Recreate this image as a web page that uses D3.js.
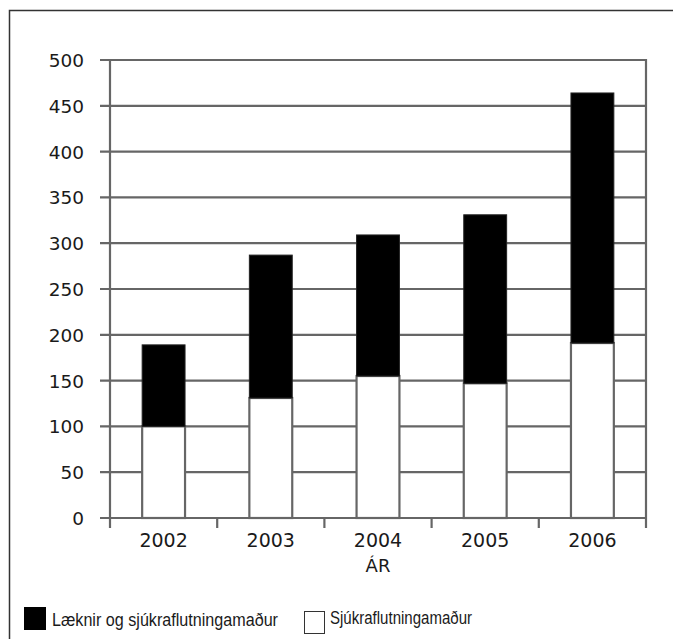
<!DOCTYPE html>
<meta charset="utf-8">
<script src="https://d3js.org/d3.v7.min.js"></script>
<style>
  body { margin: 0; background: #fff; }
  text { font-family: "DejaVu Sans", Verdana, sans-serif; fill: #1a1a1a; }
  .legend text { font-family: "Liberation Sans", Arial, sans-serif; }
</style>
<body>
<div id="chart"></div>
<script>
  // data
  const years = ["2002", "2003", "2004", "2005", "2006"];
  const sjukra = [100, 131, 155, 147, 191];      // white part
  const laeknir = [89, 156, 154, 184, 273];      // black part, stacked on top
  const yTicks = [0, 50, 100, 150, 200, 250, 300, 350, 400, 450, 500];
  const seriesNames = ["Læknir og sjúkraflutningamaður", "Sjúkraflutningamaður"];

  const W = 673, H = 639;
  const margin = {top: 60, right: 27, bottom: 121, left: 110};
  const width = W - margin.left - margin.right,
        height = H - margin.top - margin.bottom;
  const grid = "#666";

  const svg = d3.select("#chart").append("svg")
      .attr("width", W).attr("height", H);

  // outer frame (runs off the right and bottom edge)
  svg.append("rect")
      .attr("x", 9.5).attr("y", 10.5)
      .attr("width", W + 10).attr("height", H + 10)
      .attr("fill", "none").attr("stroke", "#333").attr("stroke-width", 1.5);

  const g = svg.append("g")
      .attr("transform", `translate(${margin.left}, ${margin.top})`);

  const x = d3.scaleBand().domain(years).range([0, width]).padding(0);
  const y = d3.scaleLinear().domain([0, 500]).range([height, 0]);

  // horizontal grid lines with small ticks to the left
  g.append("g").selectAll("line")
    .data(yTicks)
    .enter().append("line")
      .attr("x1", -10).attr("x2", width + 1)
      .attr("y1", d => y(d)).attr("y2", d => y(d))
      .attr("stroke", grid).attr("stroke-width", 2.2);

  // left and right vertical lines
  g.append("line").attr("x1", 0).attr("x2", 0).attr("y1", y(500) - 1).attr("y2", height + 10)
      .attr("stroke", grid).attr("stroke-width", 2.2);
  g.append("line").attr("x1", width).attr("x2", width).attr("y1", y(500) - 1).attr("y2", height + 10)
      .attr("stroke", grid).attr("stroke-width", 2.2);

  // ticks below the x axis at the category borders
  g.append("g").selectAll("line")
    .data(years.slice(1))
    .enter().append("line")
      .attr("x1", d => x(d)).attr("x2", d => x(d))
      .attr("y1", height).attr("y2", height + 10)
      .attr("stroke", grid).attr("stroke-width", 2.2);

  // y labels
  g.append("g").selectAll("text")
    .data(yTicks)
    .enter().append("text")
      .attr("x", -26).attr("y", d => y(d))
      .attr("dy", "0.38em")
      .attr("text-anchor", "end")
      .style("font-size", "18.5px")
      .text(d => d);

  // bars
  const bw = x.bandwidth() * 0.4;
  const bars = g.append("g").selectAll("g")
    .data(years)
    .enter().append("g")
      .attr("transform", d => `translate(${x(d) + x.bandwidth() / 2 - bw / 2}, 0)`);

  bars.append("rect")
      .attr("y", (d, i) => y(sjukra[i]))
      .attr("width", bw)
      .attr("height", (d, i) => height - y(sjukra[i]))
      .attr("fill", "#fff").attr("stroke", grid).attr("stroke-width", 2.2);

  bars.append("rect")
      .attr("y", (d, i) => y(sjukra[i] + laeknir[i]))
      .attr("width", bw)
      .attr("height", (d, i) => y(sjukra[i]) - y(sjukra[i] + laeknir[i]))
      .attr("fill", "#000").attr("stroke", "#222").attr("stroke-width", 1);

  // x labels
  g.append("g").selectAll("text")
    .data(years)
    .enter().append("text")
      .attr("x", d => x(d) + x.bandwidth() / 2)
      .attr("y", height + 29)
      .attr("text-anchor", "middle")
      .style("font-size", "19px")
      .text(d => d);

  g.append("text")
      .attr("x", width / 2).attr("y", height + 54)
      .attr("text-anchor", "middle")
      .style("font-size", "18px")
      .text("ÁR");

  // legend
  const legend = svg.append("g").attr("class", "legend");
  legend.append("rect").attr("x", 24).attr("y", 607).attr("width", 22).attr("height", 23)
      .attr("fill", "#000");
  legend.append("text").attr("x", 52).attr("y", 626)
      .attr("textLength", 226).attr("lengthAdjust", "spacingAndGlyphs")
      .style("font-size", "17.5px").text(seriesNames[0]);
  legend.append("rect").attr("x", 304.5).attr("y", 611.5).attr("width", 20).attr("height", 22)
      .attr("fill", "#fff").attr("stroke", "#333").attr("stroke-width", 1);
  legend.append("text").attr("x", 330).attr("y", 624)
      .attr("textLength", 142).attr("lengthAdjust", "spacingAndGlyphs")
      .style("font-size", "17.5px").text(seriesNames[1]);
</script>
</body>
